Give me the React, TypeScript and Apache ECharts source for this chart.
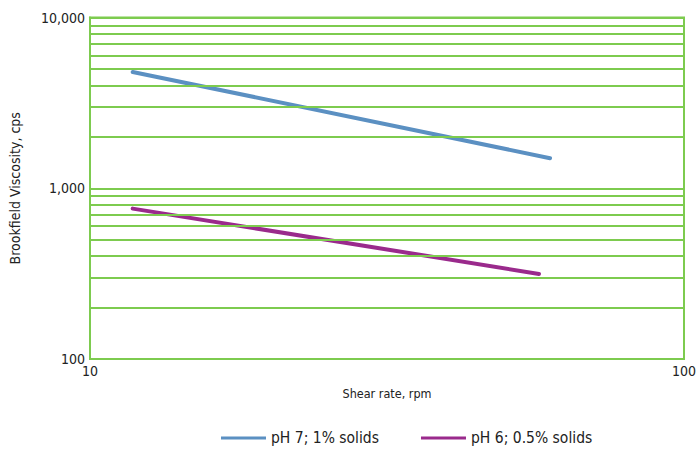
import React, { useEffect, useRef } from "react";
import * as echarts from "echarts";

const seriesNames = ["pH 7; 1% solids", "pH 6; 0.5% solids"];
const shearRate1 = [11.8, 59.5];
const viscosity1 = [4800, 1500];
const shearRate2 = [11.8, 57];
const viscosity2 = [760, 315];
const gridValues = [200, 300, 400, 500, 600, 700, 800, 900, 2000, 3000, 4000, 5000, 6000, 7000, 8000, 9000];
const xTicks = [10, 100];
const yTicks = [100, 1000, 10000];

const GREEN = "#7dcb4f";
const FONT = "'DejaVu Sans Condensed', 'Liberation Sans Narrow', sans-serif";

export default function App() {
  const ref = useRef<HTMLDivElement>(null);
  useEffect(() => {
    if (!ref.current) return;
    const chart = echarts.init(ref.current, undefined, { renderer: "svg" });
    chart.setOption({
      animation: false,
      backgroundColor: "#ffffff",
      textStyle: { fontFamily: FONT, color: "#222" },
      grid: {
        left: 87,
        right: 16,
        top: 17.5,
        bottom: 90,
        show: true,
        borderColor: GREEN,
        borderWidth: 2,
      },
      legend: {
        left: 216,
        top: 425,
        itemWidth: 45,
        itemHeight: 3,
        itemGap: 42,
        icon: "rect",
        textStyle: { fontFamily: FONT, fontSize: 15.5, color: "#222" },
        data: seriesNames,
      },
      xAxis: {
        type: "log",
        logBase: 10,
        min: xTicks[0],
        max: xTicks[xTicks.length - 1],
        name: "Shear rate, rpm",
        nameLocation: "middle",
        nameGap: 28,
        nameTextStyle: { fontFamily: FONT, fontSize: 12.5, color: "#222" },
        axisLine: { show: true, lineStyle: { color: GREEN, width: 2 } },
        axisTick: { show: false },
        splitLine: { show: false },
        axisLabel: {
          fontFamily: FONT,
          fontSize: 14,
          color: "#222",
          margin: 5,
          formatter: (v: number) => (xTicks.includes(Math.round(v)) ? String(Math.round(v)) : ""),
        },
      },
      yAxis: {
        type: "log",
        logBase: 10,
        min: yTicks[0],
        max: yTicks[yTicks.length - 1],
        name: "Brookfield Viscosity, cps",
        nameLocation: "middle",
        nameGap: 68,
        nameTextStyle: { fontFamily: FONT, fontSize: 14, color: "#222" },
        axisLine: { show: true, lineStyle: { color: GREEN, width: 2 } },
        axisTick: { show: false },
        splitLine: { show: true, lineStyle: { color: GREEN, width: 2 } },
        axisLabel: {
          fontFamily: FONT,
          fontSize: 14,
          color: "#222",
          margin: 5,
          formatter: (v: number) => Math.round(v).toLocaleString("en-US"),
        },
      },
      series: [
        {
          type: "line",
          name: "grid",
          data: [],
          z: 1,
          silent: true,
          markLine: {
            silent: true,
            symbol: "none",
            label: { show: false },
            lineStyle: { color: GREEN, width: 2, type: "solid" },
            data: gridValues.map((v) => ({ yAxis: v })),
          },
        },
        {
          type: "line",
          name: seriesNames[0],
          z: 3,
          data: shearRate1.map((x, i) => [x, viscosity1[i]]),
          showSymbol: false,
          symbol: "none",
          color: "#5b90c2",
          lineStyle: { color: "#5b90c2", width: 4, cap: "round" },
        },
        {
          type: "line",
          name: seriesNames[1],
          z: 3,
          data: shearRate2.map((x, i) => [x, viscosity2[i]]),
          showSymbol: false,
          symbol: "none",
          color: "#9a2a8c",
          lineStyle: { color: "#9a2a8c", width: 4, cap: "round" },
        },
      ],
    });
    return () => chart.dispose();
  }, []);
  return (
    <div
      ref={ref}
      style={{ position: "absolute", left: 0, top: 0, width: 700, height: 449 }}
    />
  );
}
